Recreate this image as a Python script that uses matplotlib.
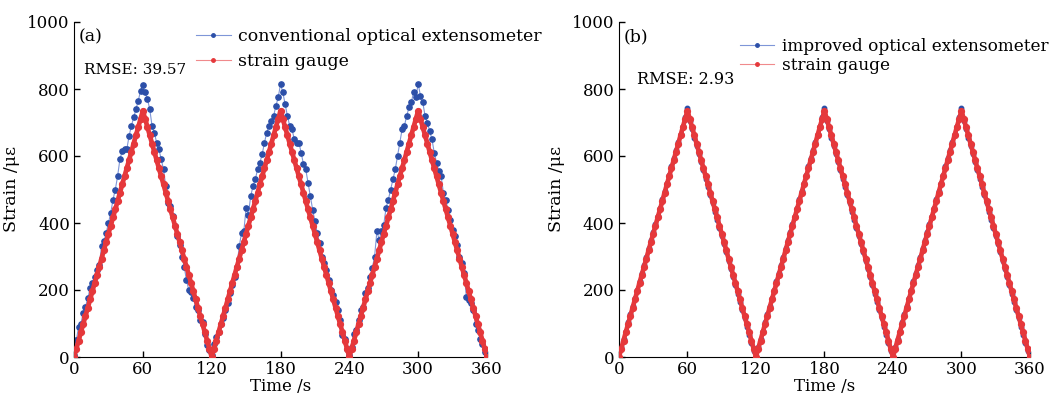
import matplotlib
matplotlib.use('Agg')
import matplotlib.pyplot as plt
import numpy as np

plt.rcParams['font.family'] = ['DejaVu Serif']
plt.rcParams['mathtext.fontset'] = 'dejavuserif'

BLUE = '#2C4FA8'
BLUE_LINE = '#7F96D8'
RED = '#E5383B'
RED_LINE = '#F08A8C'

# sampling times (s), one sample every 2 s
time_s = np.arange(0, 361, 2)

# strain gauge reading (same load cycle in both tests)
gauge = [
    0, 25, 49, 74, 98, 123, 147, 172, 196, 221, 245, 270, 294, 319, 343, 368,
    392, 417, 441, 466, 490, 515, 539, 564, 588, 613, 637, 662, 686, 711, 735,
    711, 686, 662, 637, 613, 588, 564, 539, 515, 490, 466, 441, 417, 392, 368,
    343, 319, 294, 270, 245, 221, 196, 172, 147, 123, 98, 74, 49, 25, 0,
    25, 49, 74, 98, 123, 147, 172, 196, 221, 245, 270, 294, 319, 343, 368,
    392, 417, 441, 466, 490, 515, 539, 564, 588, 613, 637, 662, 686, 711, 735,
    711, 686, 662, 637, 613, 588, 564, 539, 515, 490, 466, 441, 417, 392, 368,
    343, 319, 294, 270, 245, 221, 196, 172, 147, 123, 98, 74, 49, 25, 0,
    25, 49, 74, 98, 123, 147, 172, 196, 221, 245, 270, 294, 319, 343, 368,
    392, 417, 441, 466, 490, 515, 539, 564, 588, 613, 637, 662, 686, 711, 735,
    711, 686, 662, 637, 613, 588, 564, 539, 515, 490, 466, 441, 417, 392, 368,
    343, 319, 294, 270, 245, 221, 196, 172, 147, 123, 98, 74, 49, 25, 0,
]

# conventional optical extensometer (panel a)
conventional = [
    5, 50, 90, 100, 131, 150, 175, 205, 220, 240, 260, 275, 330, 345, 370, 400,
    430, 470, 500, 540, 590, 615, 620, 620, 660, 690, 715, 740, 765, 795, 812,
    790, 770, 740, 690, 670, 640, 620, 590, 560, 510, 460, 450, 420, 390, 360,
    335, 300, 270, 230, 200, 195, 175, 150, 140, 110, 105, 70, 35, 20, 5,
    40, 60, 75, 100, 115, 140, 160, 190, 215, 240, 270, 330, 370, 375, 445,
    425, 480, 510, 530, 560, 580, 605, 640, 670, 690, 705, 720, 750, 775, 815,
    790, 755, 720, 690, 680, 650, 640, 640, 610, 575, 560, 520, 480, 440, 405,
    370, 340, 300, 280, 260, 230, 200, 185, 165, 140, 110, 65, 55, 25, 5,
    30, 70, 80, 110, 140, 150, 190, 205, 240, 265, 300, 375, 350, 375, 395,
    445, 470, 500, 530, 560, 600, 640, 680, 690, 720, 745, 760, 790, 775, 815,
    780, 760, 720, 700, 675, 650, 610, 580, 555, 540, 490, 470, 440, 410, 380,
    360, 335, 300, 280, 250, 180, 170, 160, 140, 100, 80, 55, 40, 15, 0,
]

# improved optical extensometer (panel b)
improved = [
    0, 30, 54, 79, 103, 128, 152, 177, 201, 226, 250, 275, 299, 324, 348, 373,
    397, 422, 446, 471, 495, 520, 544, 569, 593, 618, 642, 667, 691, 716, 742,
    705, 680, 655, 630, 606, 581, 557, 532, 508, 483, 459, 434, 410, 385, 361,
    336, 312, 287, 263, 238, 214, 189, 165, 140, 116, 91, 67, 42, 18, 0,
    30, 54, 79, 103, 128, 152, 177, 201, 226, 250, 275, 299, 324, 348, 373,
    397, 422, 446, 471, 495, 520, 544, 569, 593, 618, 642, 667, 691, 716, 742,
    705, 680, 655, 630, 606, 581, 557, 532, 508, 483, 459, 434, 410, 385, 361,
    336, 312, 287, 263, 238, 214, 189, 165, 140, 116, 91, 67, 42, 18, 0,
    30, 54, 79, 103, 128, 152, 177, 201, 226, 250, 275, 299, 324, 348, 373,
    397, 422, 446, 471, 495, 520, 544, 569, 593, 618, 642, 667, 691, 716, 742,
    705, 680, 655, 630, 606, 581, 557, 532, 508, 483, 459, 434, 410, 385, 361,
    336, 312, 287, 263, 238, 214, 189, 165, 140, 116, 91, 67, 42, 18, 0,
]

panels = [
    ('(a)', 'RMSE: 39.57', 'conventional optical extensometer', conventional),
    ('(b)', 'RMSE: 2.93', 'improved optical extensometer', improved),
]
x_ticks = [0, 60, 120, 180, 240, 300, 360]
y_ticks = [0, 200, 400, 600, 800, 1000]

fig = plt.figure(figsize=(10.53, 4.0), dpi=100)
fig.patch.set_facecolor('white')
ax_pos = [[0.0703, 0.1075, 0.3922, 0.8375], [0.5878, 0.1075, 0.3903, 0.8375]]
# legend top-left corners in figure fraction, row spacing, rmse text
leg_xy = [(0.186, 0.930), (0.703, 0.905)]
leg_space = [0.45, 0.12]
rmse_xy = [(9, 857, 11.0), (16, 827, 11.5)]

for i, (tag, rmse, label, ext) in enumerate(panels):
    ax = fig.add_axes(ax_pos[i])
    ms = 3.8 if i == 0 else 3.2
    ax.plot(time_s, ext, color=BLUE_LINE, lw=0.8 if i == 0 else 1.5, marker='o', ms=ms,
            mfc=BLUE, mec=BLUE, label=label, zorder=2)
    ax.plot(time_s, gauge, color=RED, lw=3.4, marker='o', ms=4.2,
            mfc=RED, mec=RED, label='strain gauge', zorder=3)

    ax.set_xlim(0, 360)
    ax.set_ylim(0, 1000)
    ax.set_xticks(x_ticks)
    ax.set_yticks(y_ticks)
    ax.tick_params(direction='in', length=4, labelsize=12, width=1, pad=3)
    for s in ['top', 'right']:
        ax.spines[s].set_visible(False)
    ax.set_xlabel('Time /s', fontsize=12, labelpad=0)
    ax.set_ylabel('Strain /με', fontsize=12.5, labelpad=5)

    ax.text(4, 955, tag, fontsize=12.5, ha='left', va='center')
    ax.text(rmse_xy[i][0], rmse_xy[i][1], rmse, fontsize=rmse_xy[i][2],
            ha='left', va='center')

    handles, labels = ax.get_legend_handles_labels()
    leg = fig.legend(handles, labels, loc='upper left', bbox_to_anchor=leg_xy[i],
                     frameon=False, fontsize=12.5 if i == 0 else 12.2, handlelength=2.0,
                     handletextpad=0.45, labelspacing=leg_space[i],
                     borderpad=0, borderaxespad=0)
    for h in leg.legend_handles:
        h.set_markersize(2.5)
        h.set_linewidth(0.8)
    leg.legend_handles[0].set_color(BLUE_LINE)
    leg.legend_handles[0].set_markerfacecolor(BLUE)
    leg.legend_handles[0].set_markeredgecolor(BLUE)
    leg.legend_handles[1].set_color(RED_LINE)
    leg.legend_handles[1].set_markerfacecolor(RED)
    leg.legend_handles[1].set_markeredgecolor(RED)

fig.savefig('out.png', dpi=100, facecolor='white')
